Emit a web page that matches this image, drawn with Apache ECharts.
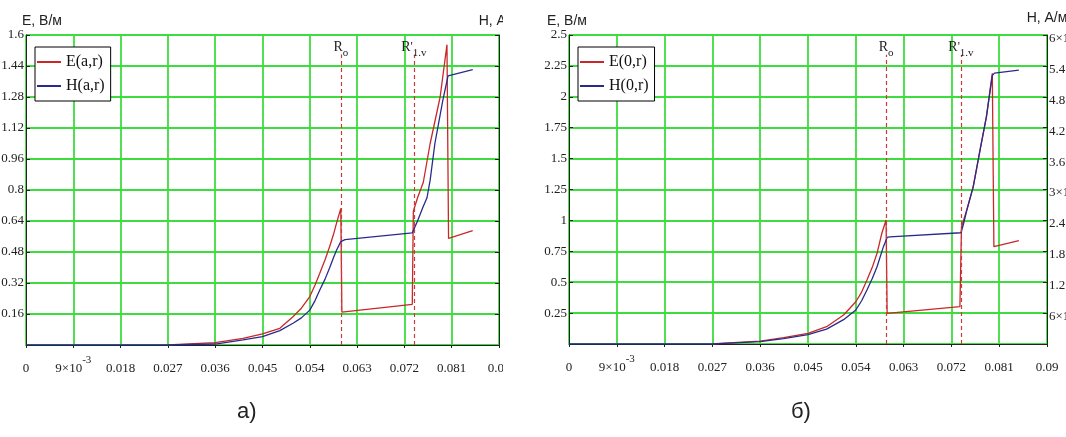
<!DOCTYPE html>
<html>
<head>
<meta charset="utf-8">
<script src="https://cdn.jsdelivr.net/npm/echarts@6/dist/echarts.min.js"></script>
<style>
html, body { margin: 0; padding: 0; background: #fff; }
#chartA { position: absolute; left: 0; top: 0; width: 503px; height: 437px; }
#chartB { position: absolute; left: 530px; top: 0; width: 536px; height: 437px; }
</style>
</head>
<body>
<div id="chartA"></div>
<div id="chartB"></div>
<script>
// а) E(a,r), H(a,r)
const rA_E = [0.027, 0.028, 0.036, 0.0413, 0.045, 0.0483, 0.0508, 0.0524, 0.054, 0.055, 0.0559, 0.0569, 0.0578, 0.0585, 0.0591, 0.0599, 0.0601, 0.0735, 0.0737, 0.0745, 0.0756, 0.0769, 0.0788, 0.0801, 0.0804, 0.085];
const E_a  = [0, 0.002, 0.012, 0.034, 0.057, 0.086, 0.146, 0.19, 0.25, 0.31, 0.37, 0.44, 0.51, 0.57, 0.63, 0.705, 0.17, 0.21, 0.69, 0.76, 0.84, 1.04, 1.28, 1.55, 0.55, 0.59];
const rA_H = [0, 0.027, 0.036, 0.0413, 0.045, 0.0483, 0.0508, 0.0524, 0.054, 0.055, 0.0559, 0.0569, 0.0578, 0.0585, 0.0591, 0.0599, 0.0607, 0.0735, 0.0745, 0.0755, 0.0763, 0.0769, 0.0778, 0.0793, 0.0803, 0.085];
const H_a  = [0, 0, 1.9e-5, 9.8e-5, 1.61e-4, 2.78e-4, 4.2e-4, 5.25e-4, 6.75e-4, 8.6e-4, 1.065e-3, 1.275e-3, 1.5e-3, 1.69e-3, 1.84e-3, 2.0e-3, 2.04e-3, 2.17e-3, 2.4e-3, 2.66e-3, 2.85e-3, 3.19e-3, 3.9e-3, 4.73e-3, 5.21e-3, 5.33e-3];
const Ro_a = 0.0599, R1v_a = 0.0738;

// б) E(0,r), H(0,r)
const rB_E = [0.027, 0.0284, 0.036, 0.0404, 0.045, 0.0485, 0.0517, 0.054, 0.0551, 0.0561, 0.0571, 0.058, 0.0589, 0.0597, 0.0599, 0.0736, 0.0739, 0.0749, 0.0761, 0.0774, 0.0786, 0.0797, 0.0800, 0.0847];
const E_b  = [0, 0.005, 0.024, 0.051, 0.086, 0.14, 0.235, 0.342, 0.42, 0.518, 0.62, 0.734, 0.896, 1.003, 0.248, 0.302, 0.949, 1.084, 1.27, 1.57, 1.84, 2.19, 0.787, 0.836];
const rB_H = [0, 0.027, 0.0284, 0.036, 0.0404, 0.045, 0.0485, 0.0517, 0.054, 0.0551, 0.0561, 0.0571, 0.058, 0.0592, 0.0599, 0.0604, 0.0738, 0.0743, 0.0749, 0.0761, 0.0774, 0.0786, 0.0797, 0.0801, 0.0847];
const H_b  = [0, 0, 7e-6, 4.6e-5, 1.03e-4, 1.8e-4, 2.9e-4, 4.73e-4, 6.6e-4, 8.4e-4, 1.05e-3, 1.27e-3, 1.5e-3, 1.89e-3, 2.07e-3, 2.08e-3, 2.16e-3, 2.34e-3, 2.6e-3, 3.05e-3, 3.77e-3, 4.42e-3, 5.21e-3, 5.26e-3, 5.32e-3];
const Ro_b = 0.0597, R1v_b = 0.0738;

// axes
const xMax = 0.09, xStep = 0.009;
const eMaxA = 1.6, eStepA = 0.16;
const eMaxB = 2.5, eStepB = 0.25;
const hMax = 0.006, hStep = 0.0006;

const SERIF = 'Liberation Serif, Times New Roman, serif';
const SANS = 'Liberation Sans Narrow, Liberation Sans, sans-serif';
const GREEN = '#3fdc3f';
const RED = '#c82828';
const BLUE = '#2a2a8c';

function pairs(xs, ys) {
  return xs.map((x, i) => [x, ys[i]]);
}

function xLabel(v) {
  if (v === 0) return '{m|0}';
  if (Math.abs(v - 0.009) < 1e-9) return '{m|9×10}{e|-3}';
  return '{m|' + (+v.toFixed(3)) + '}';
}

function hLabel(v) {
  if (v === 0) return '';
  const e = Math.floor(Math.log10(v) + 1e-9);
  const m = +(v / Math.pow(10, e)).toFixed(2);
  return '{m|' + m + '×10}{e|' + e + '}';
}

const supRich = {
  m: { fontFamily: SERIF, fontSize: 13, color: '#222', verticalAlign: 'bottom', lineHeight: 20 },
  e: { fontFamily: SERIF, fontSize: 11, color: '#222', verticalAlign: 'top', lineHeight: 20 }
};

const markRich = {
  r: { fontFamily: SERIF, fontSize: 14, color: '#222', verticalAlign: 'top', lineHeight: 18 },
  p: { fontFamily: SERIF, fontSize: 12, color: '#222', verticalAlign: 'top', lineHeight: 18 },
  s: { fontFamily: SERIF, fontSize: 11, color: '#222', verticalAlign: 'bottom', lineHeight: 18 }
};

const markText = { Ro: '{r|R}{s|o}', R1v: "{r|R}{p|'}{s|1.v}" };

function vLine(x, top, name) {
  return [{ coord: [x, 0], name: name }, { coord: [x, top] }];
}

function buildOption(c) {
  return {
    animation: false,
    title: {
      text: c.caption, left: c.capLeft, top: 396,
      textStyle: { fontFamily: SANS, fontSize: 22, fontWeight: 'normal', color: '#222' }
    },
    legend: {
      left: c.legLeft, top: 47, orient: 'vertical',
      backgroundColor: '#fff', borderColor: '#000', borderWidth: 1,
      padding: [7, 6, 7, 2], itemGap: 8, itemWidth: 24, itemHeight: 2,
      icon: 'rect',
      textStyle: { fontFamily: SERIF, fontSize: 16, color: '#111' },
      data: [c.nameE, c.nameH]
    },
    grid: { left: c.gl, right: c.gr, top: 35, bottom: c.gb, outerBoundsMode: 'none', containLabel: false },
    xAxis: {
      type: 'value', min: 0, max: xMax, interval: xStep,
      axisLine: { lineStyle: { color: '#222', width: 1 } },
      axisTick: { inside: false, length: 3, lineStyle: { color: '#222' } },
      splitLine: { show: true, lineStyle: { color: GREEN, width: 1.8 } },
      axisLabel: { margin: 10, formatter: xLabel, fontFamily: SERIF, fontSize: 13, color: '#222', rich: supRich, showMaxLabel: true }
    },
    yAxis: [
      {
        type: 'value', min: 0, max: c.eMax, interval: c.eStep,
        name: 'E, В/м', nameLocation: 'end', nameGap: 7,
        nameTextStyle: { fontFamily: SANS, fontSize: 14, color: '#222', align: 'left', padding: [0, 0, 0, c.namePad] },
        axisLine: { show: true, lineStyle: { color: '#222', width: 1 } },
        axisTick: { show: true, inside: true, length: 4, lineStyle: { color: '#222' } },
        splitLine: { show: true, lineStyle: { color: GREEN, width: 1.8 } },
        axisLabel: { margin: 2, fontFamily: SERIF, fontSize: 13, color: '#222',
          formatter: v => v === 0 ? '' : String(+v.toFixed(2)) }
      },
      {
        type: 'value', min: 0, max: hMax, interval: hStep, position: 'right',
        name: 'H, А/м', nameLocation: 'end', nameGap: 7,
        nameTextStyle: { fontFamily: SANS, fontSize: 14, color: '#222' },
        axisLine: { show: true, lineStyle: { color: '#222', width: 1 } },
        axisTick: { show: true, inside: true, length: 4, lineStyle: { color: '#222' } },
        splitLine: { show: false },
        axisLabel: { show: c.hLabels, margin: 2, formatter: hLabel, rich: supRich, fontFamily: SERIF, fontSize: 13, color: '#222' }
      }
    ],
    series: [
      {
        name: c.nameE, type: 'line', yAxisIndex: 0, data: c.E,
        showSymbol: false, symbol: 'none', z: 3,
        lineStyle: { color: RED, width: 1.3 }, itemStyle: { color: RED },
        markLine: {
          silent: true, symbol: 'none',
          lineStyle: { color: '#c83c3c', width: 1.2, type: [4, 3] },
          label: { show: true, position: 'end', distance: -4, rich: markRich,
            formatter: p => markText[p.name] || '' },
          data: [vLine(c.ro, c.mTop, 'Ro'), vLine(c.r1v, c.mTop, 'R1v')]
        }
      },
      {
        name: c.nameH, type: 'line', yAxisIndex: 1, data: c.H,
        showSymbol: false, symbol: 'none', z: 4,
        lineStyle: { color: BLUE, width: 1.3 }, itemStyle: { color: BLUE }
      }
    ]
  };
}

const chartA = echarts.init(document.getElementById('chartA'), null, { renderer: 'canvas' });
chartA.setOption(buildOption({
  caption: 'а)', capLeft: 232, legLeft: 35,
  nameE: 'E(a,r)', nameH: 'H(a,r)',
  gl: 26, gr: 4, gb: 92, namePad: -4,
  eMax: eMaxA, eStep: eStepA, hLabels: false,
  E: pairs(rA_E, E_a), H: pairs(rA_H, H_a),
  ro: Ro_a, r1v: R1v_a, mTop: 1.5
}));

const chartB = echarts.init(document.getElementById('chartB'), null, { renderer: 'canvas' });
chartB.setOption(buildOption({
  caption: 'б)', capLeft: 256, legLeft: 48,
  nameE: 'E(0,r)', nameH: 'H(0,r)',
  gl: 39, gr: 19, gb: 93, namePad: -22,
  eMax: eMaxB, eStep: eStepB, hLabels: true,
  E: pairs(rB_E, E_b), H: pairs(rB_H, H_b),
  ro: Ro_b, r1v: R1v_b, mTop: 2.34
}));
</script>
</body>
</html>
